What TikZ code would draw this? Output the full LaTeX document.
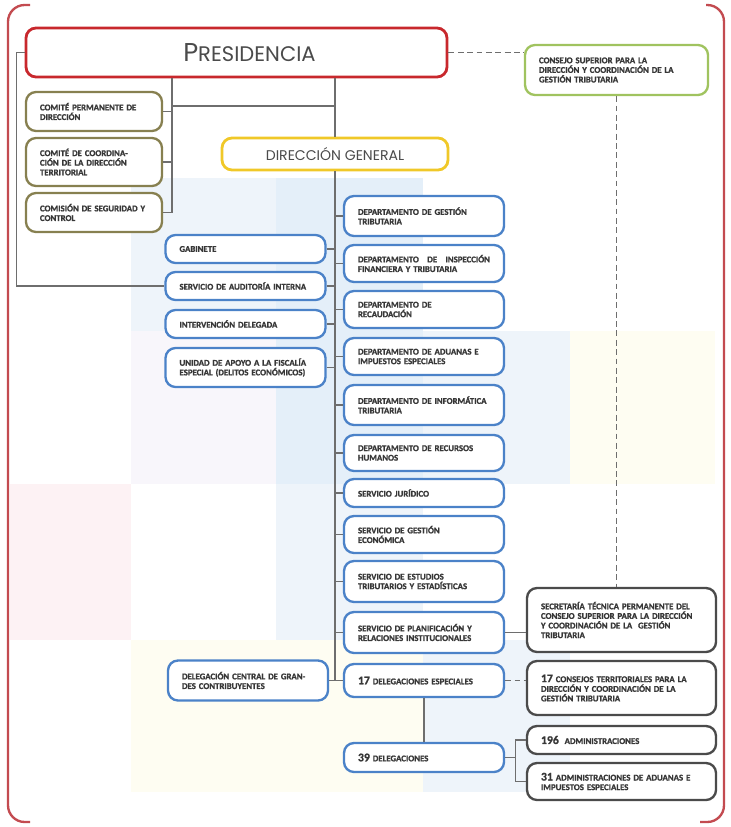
\documentclass[tikz,border=0pt]{standalone}
\usepackage{fontspec}
\setmainfont{Carlito}[BoldFeatures={FakeBold=1.2}]
\newfontfamily\titlefont{Poppins}
\definecolor{presred}{RGB}{200, 40, 45}
\definecolor{framered}{RGB}{195, 75, 80}
\definecolor{boardolive}{RGB}{135, 128, 80}
\definecolor{councilgreen}{RGB}{160, 195, 95}
\definecolor{dgyellow}{RGB}{240, 200, 40}
\definecolor{unitblue}{RGB}{75, 130, 200}
\definecolor{darkunit}{RGB}{75, 75, 75}
\definecolor{linegray}{RGB}{110, 110, 110}
\definecolor{textgray}{RGB}{55, 55, 55}
\definecolor{titlegray}{RGB}{75, 75, 75}
\definecolor{bgblue}{RGB}{228, 239, 249}
\definecolor{bgbluelight}{RGB}{238, 244, 250}
\definecolor{bgpink}{RGB}{253, 242, 244}
\definecolor{bglav}{RGB}{248, 246, 251}
\definecolor{bgyellow}{RGB}{254, 253, 242}
\usepackage{tikz}
\newcommand{\orgnum}[1]{{\fontsize{10}{10}\selectfont #1}}

\tikzset{
  orgbox/.style={draw, rounded corners=3mm, line width=2pt, fill=white, inner xsep=4.2mm, inner ysep=1mm,
    align=left, text=textgray, font=\fontsize{7.5}{8.2}\selectfont\bfseries},
  unitbox/.style={orgbox, draw=unitblue, text width=39.6mm},
  boardbox/.style={orgbox, draw=boardolive, text width=32.4mm},
  councilbox/.style={orgbox, draw=councilgreen, text width=46.5mm},
  darkbox/.style={orgbox, draw=darkunit, text width=48.3mm},
  headbox/.style={draw, rounded corners=3mm, line width=2.4pt, fill=white, align=center, text=titlegray},
  conn/.style={draw=linegray, line width=1pt},
  dashconn/.style={conn, dash pattern=on 5pt off 3pt},
  framebar/.style={draw=framered, line width=2pt, rounded corners=5mm}
}

\begin{document}
\begin{tikzpicture}[x=0.3mm, y=-0.3mm]
  \useasboundingbox (0, 0) rectangle (731, 827);

  % Background squares
  \fill[bgblue] (276, 178) rectangle (423, 640);
  \fill[bgbluelight] (131, 178) rectangle (276, 331);
  \fill[bglav] (131, 331) rectangle (276, 484);
  \fill[bgbluelight] (423, 331) rectangle (570, 484);
  \fill[bgyellow] (570, 331) rectangle (715, 484);
  \fill[bgpink] (10, 484) rectangle (131, 640);
  \fill[bgbluelight] (276, 484) rectangle (423, 640);
  \fill[bgbluelight] (423, 640) rectangle (570, 792);
  \fill[bgyellow] (131, 640) rectangle (423, 792);

  % Frame
  \draw[framebar] (30, 5) -| (8, 822) -- (30, 822);
  \draw[framebar] (706, 5) -| (724, 822) -- (700, 822);

  % Presidency and its boards
  \node[headbox, draw=presred, minimum width=126.3mm, minimum height=14.7mm] (pres) at (236.5, 52.5)
    {\hspace*{7.8mm}\titlefont\fontsize{22}{22}\selectfont P\fontsize{18}{18}\selectfont RESIDENCIA};
  \node[councilbox, minimum height=15mm] (consejo) at (616.5, 70)
    {CONSEJO SUPERIOR PARA LA\\DIRECCIÓN Y COORDINACIÓN DE LA\\GESTIÓN TRIBUTARIA};
  \node[boardbox, minimum height=11.7mm] (perm) at (94, 111.5) {COMITÉ PERMANENTE DE\\DIRECCIÓN};
  \node[boardbox, minimum height=14.4mm] (coord) at (94, 162) {COMITÉ DE COORDINA-\\CIÓN DE LA DIRECCIÓN\\TERRITORIAL};
  \node[boardbox, minimum height=11.7mm] (comision) at (94, 212.5) {COMISIÓN DE SEGURIDAD Y\\CONTROL};

  % Dirección General
  \node[headbox, draw=dgyellow, minimum width=67.8mm, minimum height=9.6mm] (dg) at (335, 154)
    {\titlefont\fontsize{12}{12}\selectfont DIRECCIÓN GENERAL};

  % Units on the right of the trunk
  \node[unitbox, minimum height=12mm] (d1) at (424, 216) {DEPARTAMENTO DE GESTIÓN\\TRIBUTARIA};
  \node[unitbox, minimum height=11.1mm] (d2) at (424, 263.5) {DEPARTAMENTO\hfill DE\hfill INSPECCIÓN\\FINANCIERA Y TRIBUTARIA};
  \node[unitbox, minimum height=11.1mm] (d3) at (424, 309.5) {DEPARTAMENTO DE\\RECAUDACIÓN};
  \node[unitbox, minimum height=11.1mm] (d4) at (424, 356.5) {DEPARTAMENTO DE ADUANAS E\\IMPUESTOS ESPECIALES};
  \node[unitbox, minimum height=12mm] (d5) at (424, 405) {DEPARTAMENTO DE INFORMÁTICA\\TRIBUTARIA};
  \node[unitbox, minimum height=10.8mm] (d6) at (424, 453) {DEPARTAMENTO DE RECURSOS\\HUMANOS};
  \node[unitbox, minimum height=8.4mm] (s1) at (424, 493) {SERVICIO JURÍDICO};
  \node[unitbox, minimum height=11.1mm] (s2) at (424, 534.5) {SERVICIO DE GESTIÓN\\ECONÓMICA};
  \node[unitbox, minimum height=12.3mm] (s3) at (424, 581.5) {SERVICIO DE ESTUDIOS\\TRIBUTARIOS Y ESTADÍSTICAS};
  \node[unitbox, minimum height=12.3mm] (s4) at (424, 632.5) {SERVICIO DE PLANIFICACIÓN Y\\RELACIONES INSTITUCIONALES};
  \node[unitbox, minimum height=9.9mm] (delesp) at (424, 680.5) {\orgnum{17} DELEGACIONES ESPECIALES};
  \node[unitbox, minimum height=8.7mm] (deleg) at (424, 757.5) {\orgnum{39}\ DELEGACIONES};

  % Units on the left of the trunk
  \node[unitbox, minimum height=8.4mm] (gab) at (245.5, 249) {GABINETE};
  \node[unitbox, minimum height=8.4mm] (audit) at (245.5, 286) {SERVICIO DE AUDITORÍA INTERNA};
  \node[unitbox, minimum height=8.4mm] (interv) at (245.5, 324) {INTERVENCIÓN DELEGADA};
  \node[unitbox, minimum height=11.7mm] (unidad) at (245.5, 367.5) {UNIDAD DE APOYO A LA FISCALÍA\\ESPECIAL (DELITOS ECONÓMICOS)};
  \node[unitbox, minimum height=12mm] (delcentral) at (248, 680.5) {DELEGACIÓN CENTRAL DE GRAN-\\DES CONTRIBUYENTES};

  % Territorial and council bodies
  \node[darkbox, minimum height=19.2mm] (secret) at (621.5, 620)
    {SECRETARÍA TÉCNICA PERMANENTE DEL\\CONSEJO SUPERIOR PARA LA DIRECCIÓN\\Y COORDINACIÓN DE LA\ \ GESTIÓN\\TRIBUTARIA};
  \node[darkbox, minimum height=16.2mm] (consej17) at (621.5, 688)
    {\orgnum{17} CONSEJOS TERRITORIALES PARA LA\\DIRECCIÓN Y COORDINACIÓN DE LA\\GESTIÓN TRIBUTARIA};
  \node[darkbox, minimum height=8.4mm] (adm196) at (621.5, 740) {\orgnum{196}\ \ ADMINISTRACIONES};
  \node[darkbox, minimum height=11.1mm] (adm31) at (621.5, 781.5)
    {\orgnum{31} ADMINISTRACIONES DE ADUANAS E\\IMPUESTOS ESPECIALES};

  % Links from the presidency
  \coordinate (cbus) at (172, 106);
  \draw[conn] (pres.west) -- ++(-8, 0) |- (audit.west);
  \draw[conn] (pres.south -| cbus) -- (cbus |- comision.east) -- (comision.east);
  \foreach \b in {perm, coord} \draw[conn] (\b.east) -- (\b.east -| cbus);
  \draw[conn] (cbus) -- (cbus -| dg.north);
  \draw[conn] (pres.south -| dg.north) -- (dg.north);

  % Trunk below Dirección General
  \draw[conn] (dg.south) -- (dg.south |- delesp.west);
  \foreach \b in {d1, d2, d3, d4, d5, d6, s1, s2, s3, s4, delesp}
    \draw[conn] (\b.west -| dg.south) -- (\b.west);
  \foreach \b in {gab, audit, interv, unidad, delcentral}
    \draw[conn] (\b.east) -- (\b.east -| dg.south);

  % Links to the councils
  \draw[dashconn] (pres.east) -- (pres.east -| consejo.west);
  \draw[dashconn] (consejo.south) -- (consejo.south |- secret.north);
  \draw[conn] (s4.east) -- (s4.east -| secret.west);
  \draw[dashconn] (delesp.east) -- (delesp.east -| consej17.west);

  % Delegations and administrations
  \draw[conn] (delesp.south) -- (delesp.south |- deleg.north);
  \draw[conn] (deleg.east) -- ++(10, 0) coordinate (fork);
  \draw[conn] (adm196.west) -| (fork) |- (adm31.west);
\end{tikzpicture}
\end{document}
